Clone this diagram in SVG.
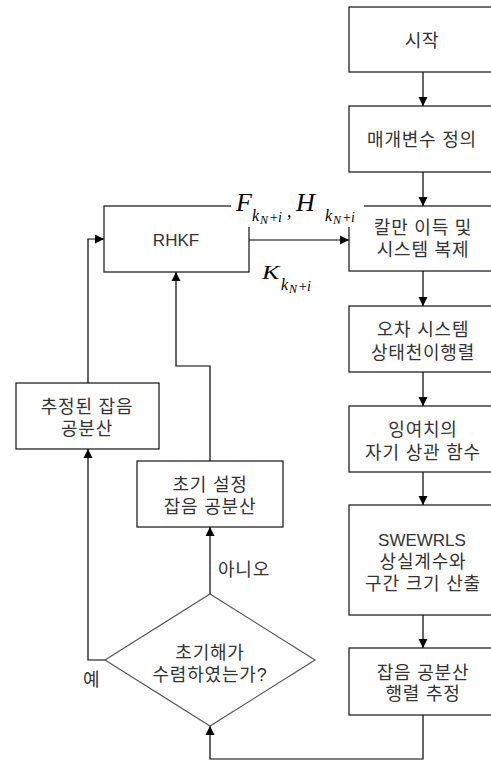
<svg xmlns="http://www.w3.org/2000/svg" width="491" height="760" viewBox="0 0 491 760">
<defs>
<marker id="arr" viewBox="0 0 10 10" refX="10" refY="5" markerWidth="9" markerHeight="10" markerUnits="userSpaceOnUse" orient="auto">
<path d="M0,0 L10,5 L0,10 z" fill="#000"/>
</marker>
<style>
.box{fill:#fff;stroke:#111;stroke-width:1.2}
.dia{fill:#fff;stroke:#555;stroke-width:1.2}
.t{font-family:"Liberation Sans","Noto Sans CJK KR",sans-serif;font-size:18px;letter-spacing:0.8px;fill:#333;text-anchor:middle}
.e{font-family:"Liberation Sans","Noto Sans CJK KR",sans-serif;font-size:17px;fill:#333;text-anchor:middle}
.tl{font-family:"Liberation Sans","Noto Sans CJK KR",sans-serif;font-size:18px;letter-spacing:0.8px;fill:#333}
.c{fill:none;stroke:#000;stroke-width:1.2}
.m{font-family:"Liberation Serif","DejaVu Serif",serif;font-style:italic;fill:#000}
</style>
</defs>
<g id="connectors">
<path class="c" d="M423,72 V106" marker-end="url(#arr)"/>
<path class="c" d="M423,172 V206" marker-end="url(#arr)"/>
<path class="c" d="M423,271 V306" marker-end="url(#arr)"/>
<path class="c" d="M423,372 V406" marker-end="url(#arr)"/>
<path class="c" d="M423,472 V505" marker-end="url(#arr)"/>
<path class="c" d="M423,615 V648" marker-end="url(#arr)"/>
<path class="c" d="M423,715 V759 H210 V726" marker-end="url(#arr)"/>
<path class="c" d="M249,240 H349" marker-end="url(#arr)"/>
<path class="c" d="M210,594 V527" marker-end="url(#arr)"/>
<path class="c" d="M210,461 V366 H176 V272" marker-end="url(#arr)"/>
<path class="c" d="M105,660 H88 V449" marker-end="url(#arr)"/>
<path class="c" d="M88,383 V239 H104" marker-end="url(#arr)"/>
</g>
<g id="start">
<rect class="box" x="349" y="7" width="150" height="65"/>
<text class="t" x="422" y="47">시작</text>
</g>
<g id="params">
<rect class="box" x="349" y="106" width="150" height="66"/>
<text class="t" x="422" y="146">매개변수 정의</text>
</g>
<g id="kalman">
<rect class="box" x="349" y="206" width="150" height="65"/>
<text class="t" x="423" y="234">칼만 이득 및</text>
<text class="t" x="423" y="256">시스템 복제</text>
</g>
<g id="errsys">
<rect class="box" x="349" y="306" width="150" height="66"/>
<text class="t" x="423" y="336">오차 시스템</text>
<text class="t" x="423" y="359">상태천이행렬</text>
</g>
<g id="autocorr">
<rect class="box" x="349" y="406" width="150" height="66"/>
<text class="t" x="423" y="436">잉여치의</text>
<text class="t" x="423" y="459">자기 상관 함수</text>
</g>
<g id="swewrls">
<rect class="box" x="349" y="505" width="150" height="110"/>
<text class="e" x="422" y="546">SWEWRLS</text>
<text class="t" x="423" y="568">상실계수와</text>
<text class="t" x="423" y="590">구간 크기 산출</text>
</g>
<g id="noiseest">
<rect class="box" x="349" y="648" width="150" height="67"/>
<text class="t" x="423" y="679">잡음 공분산</text>
<text class="t" x="423" y="700">행렬 추정</text>
</g>
<g id="rhkf">
<rect class="box" x="104" y="206" width="145" height="66"/>
<text class="e" x="176" y="246">RHKF</text>
</g>
<g id="estnoise">
<rect class="box" x="16" y="383" width="143" height="66"/>
<text class="t" x="87" y="413">추정된 잡음</text>
<text class="t" x="87" y="435">공분산</text>
</g>
<g id="initnoise">
<rect class="box" x="137" y="461" width="146" height="66"/>
<text class="t" x="210" y="491">초기 설정</text>
<text class="t" x="210" y="513">잡음 공분산</text>
</g>
<g id="decision">
<polygon class="dia" points="210,594 315,660 210,726 105,660"/>
<text class="t" x="210" y="659">초기해가</text>
<text class="t" x="210" y="681">수렴하였는가?</text>
</g>
<g id="labels">
<text class="tl" x="218" y="576">아니오</text>
<text class="tl" x="83" y="686">예</text>
<rect x="231" y="188" width="133" height="39" fill="#fff"/>
<text class="m" x="236" y="211" font-size="26">F</text>
<text class="m" x="252" y="221" font-size="16">k</text>
<text class="m" x="260" y="224" font-size="12">N</text>
<text class="m" x="269" y="222" font-size="14" font-style="normal">+</text>
<text class="m" x="278" y="222" font-size="14">i</text>
<text class="m" x="287" y="217" font-size="18" font-style="normal">,</text>
<text class="m" x="296" y="211" font-size="26">H</text>
<text class="m" x="325" y="221" font-size="16">k</text>
<text class="m" x="333" y="224" font-size="12">N</text>
<text class="m" x="342" y="222" font-size="14" font-style="normal">+</text>
<text class="m" x="351" y="222" font-size="14">i</text>
<text class="m" transform="translate(262,279) scale(1,0.72)" font-size="26">K</text>
<text class="m" x="281" y="290" font-size="16">k</text>
<text class="m" x="289" y="293" font-size="12">N</text>
<text class="m" x="298" y="291" font-size="14" font-style="normal">+</text>
<text class="m" x="307" y="291" font-size="14">i</text>
</g>
</svg>
